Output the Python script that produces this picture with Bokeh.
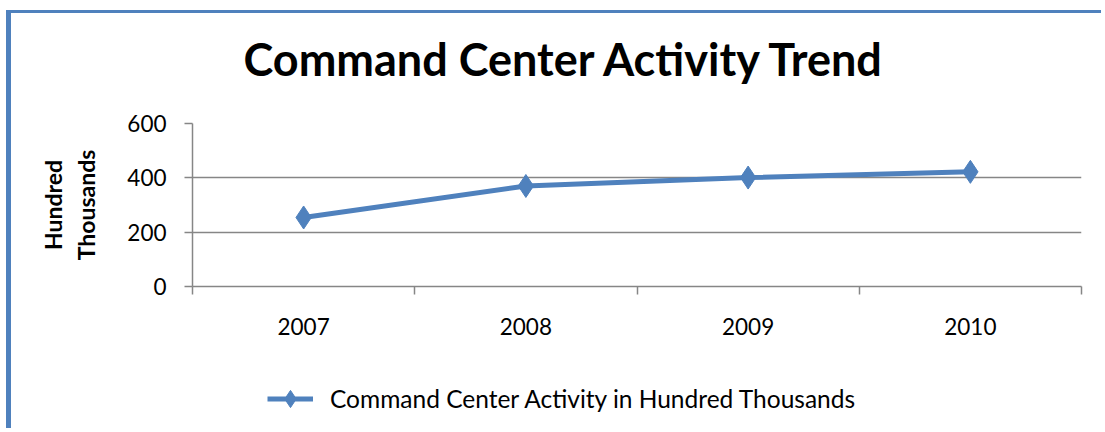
from bokeh.plotting import figure
from bokeh.layouts import column
from bokeh.models import FixedTicker, Legend, LegendItem, Range1d
from bokeh.embed import file_html
from bokeh.resources import INLINE

years = ["2007", "2008", "2009", "2010"]
activity = [254, 370, 401, 422]
y_ticks = [0, 200, 400, 600]

title_text = "Command Center Activity Trend"
series_name = "Command Center Activity in Hundred Thousands"

BLUE = "#4F81BD"
GRAY = "#868686"
FONT = "Lato"
W = 1090
LEFT = 181
RIGHT = 20


def blank(fig):
    fig.grid.visible = False
    fig.outline_line_color = None
    fig.background_fill_color = "white"
    fig.border_fill_color = "white"


# --- title strip
p0 = figure(width=W, height=90, output_backend="svg", toolbar_location=None,
            x_range=Range1d(0, 1), y_range=Range1d(0, 1),
            x_axis_location=None, y_axis_location=None, tools="",
            min_border_left=LEFT, min_border_right=RIGHT, min_border_top=77,
            min_border_bottom=0)
blank(p0)
p0.title.text = title_text
p0.title.text_font = FONT
p0.title.text_font_size = "45px"
p0.title.text_font_style = "bold"
p0.title.text_color = "black"
p0.title.align = "left"
p0.title.offset = 51
p0.title.standoff = 10

# --- main chart
xs = [i + 0.5 for i in range(len(years))]

p = figure(width=W, height=260, output_backend="svg", toolbar_location=None,
           x_range=(0, len(years)), y_range=(y_ticks[0], y_ticks[-1]),
           min_border_left=LEFT, min_border_right=RIGHT, min_border_top=20,
           min_border_bottom=77, tools="")
p.outline_line_color = None
p.background_fill_color = "white"
p.border_fill_color = "white"

p.xgrid.grid_line_color = None
p.ygrid.grid_line_color = GRAY
p.ygrid.grid_line_width = 1.5
p.ygrid.ticker = FixedTicker(ticks=y_ticks)

p.yaxis.ticker = FixedTicker(ticks=y_ticks)
p.yaxis.axis_line_color = GRAY
p.yaxis.axis_line_width = 1.5
p.yaxis.major_tick_line_color = GRAY
p.yaxis.major_tick_line_width = 1.5
p.yaxis.major_tick_out = 8
p.yaxis.major_tick_in = 0
p.yaxis.minor_tick_line_color = None
p.yaxis.major_label_text_font = FONT
p.yaxis.major_label_text_font_size = "22.5px"
p.yaxis.major_label_text_color = "black"
p.yaxis.major_label_standoff = 18
p.yaxis.axis_label = "Hundred\nThousands"
p.yaxis.axis_label_text_font = FONT
p.yaxis.axis_label_text_font_size = "23px"
p.yaxis.axis_label_text_font_style = "bold"
p.yaxis.axis_label_text_color = "black"
p.yaxis.axis_label_standoff = 24

p.xaxis.ticker = FixedTicker(ticks=xs, minor_ticks=list(range(len(years) + 1)))
p.xaxis.major_label_overrides = {x: y for x, y in zip(xs, years)}
p.xaxis.axis_line_color = GRAY
p.xaxis.axis_line_width = 1.5
p.xaxis.major_tick_line_color = None
p.xaxis.major_tick_out = 0
p.xaxis.major_tick_in = 0
p.xaxis.minor_tick_line_color = GRAY
p.xaxis.minor_tick_line_width = 1.5
p.xaxis.minor_tick_out = 8
p.xaxis.minor_tick_in = 0
p.xaxis.major_label_text_font = FONT
p.xaxis.major_label_text_font_size = "22.5px"
p.xaxis.major_label_text_color = "black"
p.xaxis.major_label_standoff = 23

p.line(xs, activity, line_color=BLUE, line_width=5)
p.scatter(xs, activity, marker="diamond", size=23,
          fill_color=BLUE, line_color=BLUE)

# --- legend strip
p2 = figure(width=W, height=65, output_backend="svg", toolbar_location=None,
            x_range=Range1d(-10, -9), y_range=Range1d(-10, -9),
            x_axis_location=None, y_axis_location=None, tools="",
            min_border_left=LEFT, min_border_right=RIGHT, min_border_top=0,
            min_border_bottom=0)
blank(p2)
ln2 = p2.line(xs, activity, line_color=BLUE, line_width=5)
mk2 = p2.scatter(xs, activity, marker="diamond", size=22,
                 fill_color=BLUE, line_color=BLUE)

legend = Legend(items=[LegendItem(label=series_name, renderers=[ln2, mk2])],
                location=(75, 8), orientation="horizontal",
                padding=0, margin=0, glyph_width=46, glyph_height=43,
                label_standoff=17, border_line_color=None,
                background_fill_alpha=0,
                label_text_font=FONT, label_text_font_size="24.5px",
                label_text_color="black")
p2.add_layout(legend, "center")

layout = column(p0, p, p2, spacing=0)
layout.styles = {"border-top": f"3px solid {BLUE}", "border-left": f"5px solid {BLUE}",
                 "margin-left": "6px", "margin-top": "10px"}

open("out.html", "w").write(file_html(layout, INLINE))
